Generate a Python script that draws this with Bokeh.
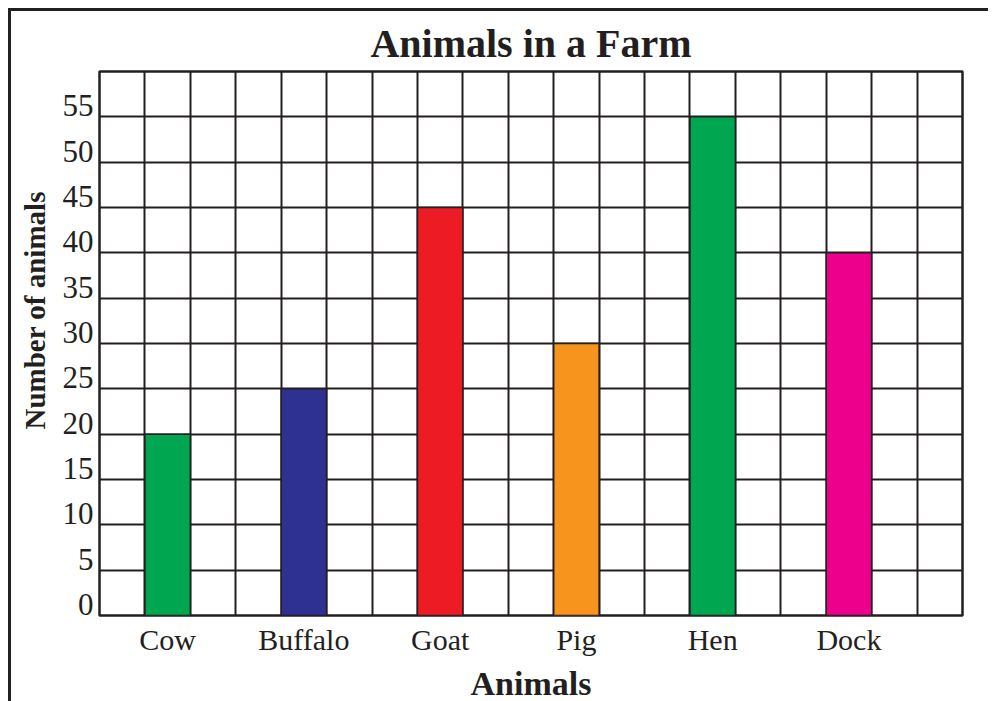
from bokeh.plotting import figure
from bokeh.models import ColumnDataSource, FixedTicker, Range1d, Title
from bokeh.embed import file_html
from bokeh.resources import INLINE

animals = ["Cow", "Buffalo", "Goat", "Pig", "Hen", "Dock"]
counts = [20, 25, 45, 30, 55, 40]
colors = ["#00a650", "#2e3192", "#ed1c24", "#f7941d", "#00a650", "#ec008c"]
positions = [1.5, 4.5, 7.5, 10.5, 13.5, 16.5]
y_ticks = [0, 5, 10, 15, 20, 25, 30, 35, 40, 45, 50, 55]
grid_y = list(range(0, 61, 5))
grid_x = list(range(0, 20))

FONT = "Liberation Serif"
INK = "#231f20"
LABEL_LIFT = 1.2  # tick labels sit just above their grid line

src = ColumnDataSource(dict(x=positions, top=counts, color=colors, name=animals))

p = figure(width=977, height=688, frame_width=863, frame_height=544,
           output_backend="svg", toolbar_location=None,
           x_range=Range1d(0, 19), y_range=Range1d(0, 60),
           min_border_left=88, min_border_right=26, min_border_top=60, min_border_bottom=84)

p.vbar(x="x", top="top", width=1, bottom=0, fill_color="color",
       line_color=INK, line_width=1.5, source=src)

p.title.text = "Animals in a Farm"
p.title.align = "center"
p.title.text_font = FONT
p.title.text_font_size = "40px"
p.title.text_font_style = "bold"
p.title.text_color = INK
p.title.standoff = 12

ylab = Title(text="Number of animals", align="left", offset=186, vertical_align="top",
             text_font=FONT, text_font_size="29px", text_font_style="bold",
             text_color=INK, standoff=14)
p.add_layout(ylab, "left")

p.xgrid.ticker = FixedTicker(ticks=grid_x)
p.ygrid.ticker = FixedTicker(ticks=grid_y)
for g in (p.xgrid, p.ygrid):
    g.grid_line_color = INK
    g.grid_line_width = 2
    g.grid_line_alpha = 1
    g.level = "image"

p.outline_line_color = INK
p.outline_line_width = 2.5
p.outline_line_alpha = 1

p.xaxis.ticker = FixedTicker(ticks=positions)
p.xaxis.major_label_overrides = {pos: name for pos, name in zip(positions, animals)}
y_label_pos = [v + LABEL_LIFT for v in y_ticks]
p.yaxis.ticker = FixedTicker(ticks=y_label_pos)
p.yaxis.major_label_overrides = {pos: str(v) for pos, v in zip(y_label_pos, y_ticks)}

for ax in (p.xaxis[0], p.yaxis[0]):
    ax.axis_line_color = None
    ax.major_tick_line_color = None
    ax.minor_tick_line_color = None
    ax.major_tick_in = 0
    ax.major_tick_out = 0
    ax.major_label_text_font = FONT
    ax.major_label_text_color = INK
    ax.axis_label_text_font = FONT
    ax.axis_label_text_font_style = "bold"
    ax.axis_label_text_color = INK

p.xaxis.axis_label = "Animals"
p.xaxis.axis_label_text_font_size = "34px"
p.xaxis.major_label_text_font_size = "30px"
p.xaxis.major_label_standoff = 7
p.xaxis.axis_label_standoff = 6

p.yaxis.major_label_text_font_size = "31px"
p.yaxis.major_label_standoff = 6

p.margin = (8, 0, 0, 8)
p.styles = {"border-top": "3px solid #231f20", "border-left": "3px solid #231f20"}

open("out.html", "w").write(file_html(p, INLINE))
